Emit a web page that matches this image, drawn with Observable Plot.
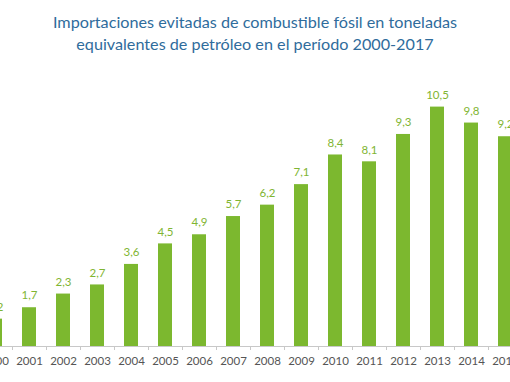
<!DOCTYPE html>
<html>
<head>
<meta charset="utf-8">
<script src="https://cdn.jsdelivr.net/npm/d3@7"></script>
<script src="https://cdn.jsdelivr.net/npm/@observablehq/plot@0.6"></script>
<style>
  html, body { margin: 0; padding: 0; background: #fff; overflow: hidden; width: 510px; height: 382px; }
  #title { height: 60px; box-sizing: border-box; padding-top: 11px; text-align: center; color: #2f6c9c; font-family: Lato, "Open Sans", sans-serif; font-size: 16.2px; line-height: 22px; }
  #chart svg { overflow: hidden; display: block; }
</style>
</head>
<body>
<div id="title">Importaciones evitadas de combustible fósil en toneladas<br>equivalentes de petróleo en el período 2000-2017</div>
<div id="chart"></div>
<script>
const years = [2000, 2001, 2002, 2003, 2004, 2005, 2006, 2007, 2008, 2009, 2010, 2011, 2012, 2013, 2014, 2015];
const values = [1.2, 1.7, 2.3, 2.7, 3.6, 4.5, 4.9, 5.7, 6.2, 7.1, 8.4, 8.1, 9.3, 10.5, 9.8, 9.2];
const valueLabels = ["1,2", "1,7", "2,3", "2,7", "3,6", "4,5", "4,9", "5,7", "6,2", "7,1", "8,4", "8,1", "9,3", "10,5", "9,8", "9,2"];

const data = years.map((y, i) => ({year: y, value: values[i], label: valueLabels[i]}));
const boundaries = years.map(y => y + 0.5).concat([years[0] - 0.5]);
const halfBar = 7 / 34;

const plot = Plot.plot({
  width: 510,
  height: 322,
  marginLeft: 0,
  marginRight: 0,
  marginTop: 0,
  marginBottom: 36,
  style: {fontFamily: "Lato, 'Open Sans', sans-serif", background: "#fff"},
  x: {type: "linear", domain: [2000 + 5 / 34, 2015 + 5 / 34], range: [0, 510], axis: null, label: null},
  y: {domain: [0, 10.5], range: [286, 46.6], axis: null, label: null},
  marks: [
    Plot.rectY(data, {x1: d => d.year - halfBar, x2: d => d.year + halfBar, y: "value", fill: "#7cb82f"}),
    Plot.text(data, {x: "year", y: "value", text: "label", dy: -12, fill: "#7fb532", fontSize: 11.5}),
    Plot.ruleY([0], {stroke: "#c8c8c8", strokeWidth: 1}),
    Plot.axisX(boundaries, {tickSize: 4, tickFormat: () => "", stroke: "#c8c8c8", label: null}),
    Plot.axisX(years, {tickSize: 0, tickPadding: 10, tickFormat: d => String(d), fill: "#555", fontSize: 11.5, label: null})
  ]
});
document.getElementById("chart").appendChild(plot);
</script>
</body>
</html>
